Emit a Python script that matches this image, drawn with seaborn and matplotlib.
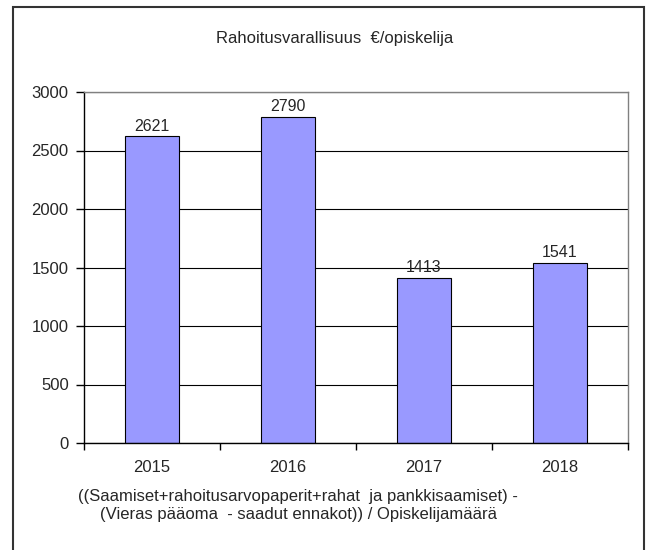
import matplotlib
matplotlib.use("Agg")
import matplotlib.pyplot as plt
import seaborn as sns
import pandas as pd
from matplotlib.patches import Rectangle

years = ["2015", "2016", "2017", "2018"]
values = [2621, 2790, 1413, 1541]
title = "Rahoitusvarallisuus  €/opiskelija"
footnote = "((Saamiset+rahoitusarvopaperit+rahat  ja pankkisaamiset) -\n(Vieras pääoma  - saadut ennakot)) / Opiskelijamäärä"

sns.set_theme(style="white")
plt.rcParams['font.family'] = ['Liberation Sans', 'DejaVu Sans']

df = pd.DataFrame({"year": years, "value": values})

fig = plt.figure(figsize=(6.47, 5.5), dpi=100)
ax = fig.add_axes([84/647, 1-443/550, (628-84)/647, (443-92)/550])

sns.barplot(data=df, x="year", y="value", color="#9999FF", edgecolor="black",
            linewidth=0.8, width=0.4, saturation=1, ax=ax)

ax.set_ylim(0, 3000)
ax.set_xlim(-0.5, 3.5)
ax.set_yticks(range(0, 3001, 500))
ax.yaxis.grid(True, color="black", linewidth=0.8)
ax.set_axisbelow(True)
ax.set_xlabel("")
ax.set_ylabel("")

for s in ["left", "bottom"]:
    ax.spines[s].set_color("black")
    ax.spines[s].set_linewidth(1.0)
for s in ["top", "right"]:
    ax.spines[s].set_color("#808080")
    ax.spines[s].set_linewidth(1.0)

ax.tick_params(axis="y", left=True, length=6, width=1, color="black", labelsize=12, pad=5)
ax.set_xticks([0, 1, 2, 3])
ax.set_xticklabels(years)
ax.tick_params(axis="x", bottom=False, labelsize=12, pad=6)
ax.set_xticks([-0.5, 0.5, 1.5, 2.5, 3.5], minor=True)
ax.tick_params(axis="x", which="minor", bottom=True, length=5, width=1, color="black")

for c in ax.containers:
    ax.bar_label(c, labels=[str(v) for v in values], padding=2, fontsize=11.5)

fig.text(335/647, 1-38/550, title, ha="center", va="center", fontsize=12)
fig.text(298/647, 1-505/550, footnote, ha="center", va="center", fontsize=12, linespacing=1.25)

fig.patches.append(Rectangle((13/647, -0.1), (644-13)/647, 1-7/550+0.1,
                             transform=fig.transFigure, fill=False,
                             edgecolor="#333333", linewidth=1.5))

fig.savefig("out.png", dpi=100)
